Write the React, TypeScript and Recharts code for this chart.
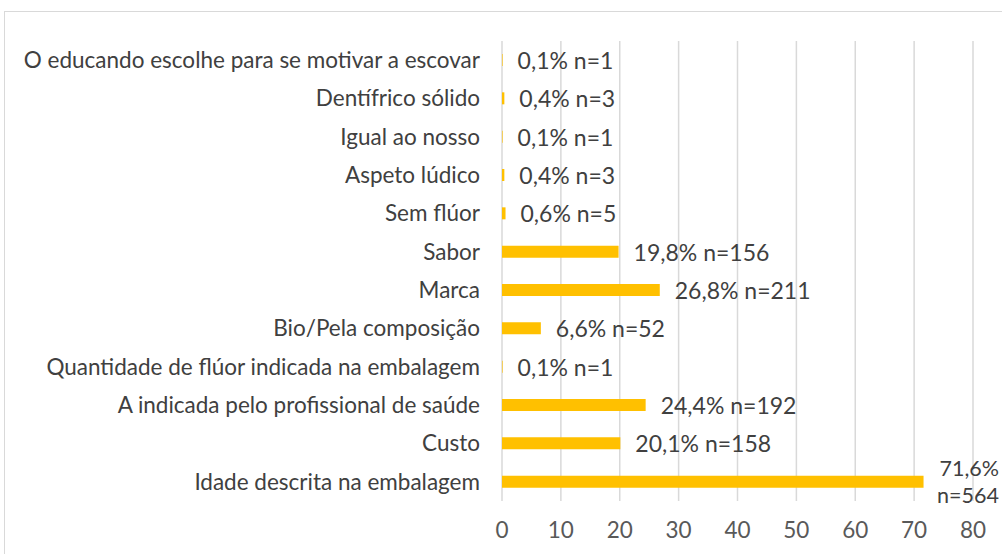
import React from "react";
import { Bar, BarChart, CartesianGrid, LabelList, XAxis, YAxis } from "recharts";

const categories = [
  "O educando escolhe para se motivar a escovar",
  "Dentífrico sólido",
  "Igual ao nosso",
  "Aspeto lúdico",
  "Sem flúor",
  "Sabor",
  "Marca",
  "Bio/Pela composição",
  "Quantidade de flúor indicada na embalagem",
  "A indicada pelo profissional de saúde",
  "Custo",
  "Idade descrita na embalagem",
];
const percents = [0.1, 0.4, 0.1, 0.4, 0.6, 19.8, 26.8, 6.6, 0.1, 24.4, 20.1, 71.6];
const counts = [1, 3, 1, 3, 5, 156, 211, 52, 1, 192, 158, 564];
const xTicks = [0, 10, 20, 30, 40, 50, 60, 70, 80];

const data = categories.map((name, i) => ({ name, pct: percents[i], n: counts[i] }));

const FONT = "Lato, 'Liberation Sans', sans-serif";
const BAR_COLOR = "#FFC000";
const GRID = "#d9d9d9";

const fmt = (v: number) => v.toFixed(1).replace(".", ",") + "%";

function BarLabel(props: any) {
  const { x, y, width, height, index } = props;
  const d = data[index];
  const lx = x + width + 15;
  const cy = y + height / 2;
  const style = { fontFamily: FONT, fontSize: 23, fill: "#404040" };
  if (d.pct > 60) {
    // long bar: label wraps onto two lines, kept inside the frame
    return (
      <text x={999} y={cy} style={{ ...style, fontSize: 21.5 }} dominantBaseline="central" textAnchor="end">
        <tspan x={999} dy={-13.5}>{fmt(d.pct)}</tspan>
        <tspan x={999} dy={27}>{`n=${d.n}`}</tspan>
      </text>
    );
  }
  return (
    <text x={lx} y={cy} style={style} dominantBaseline="central">
      {`${fmt(d.pct)} n=${d.n}`}
    </text>
  );
}

export default function App() {
  return (
    <div style={{ position: "absolute", left: 0, top: 0, width: 1002, height: 554, background: "#fff", overflow: "hidden" }}>
      <div
        style={{
          position: "absolute",
          left: 4,
          top: 11,
          width: 1020,
          height: 600,
          border: `1px solid ${GRID}`,
          boxSizing: "border-box",
        }}
      />
      <div style={{ position: "absolute", left: 0, top: 0 }}>
        <BarChart
          width={1002}
          height={554}
          data={data}
          layout="vertical"
          margin={{ top: 41, right: 29, bottom: 0, left: 0 }}
          barSize={12}
        >
          <CartesianGrid horizontal={false} stroke={GRID} strokeWidth={1.5} />
          <XAxis
            type="number"
            domain={[0, 80]}
            ticks={xTicks}
            axisLine={false}
            tickLine={false}
            tickSize={0}
            tickMargin={21}
            height={53}
            tick={{ fontFamily: FONT, fontSize: 22.5, fill: "#595959" }}
          />
          <YAxis
            type="category"
            dataKey="name"
            width={502}
            axisLine={false}
            tickLine={false}
            tickSize={0}
            tickMargin={22}
            interval={0}
            tick={{ fontFamily: FONT, fontSize: 22.5, fill: "#404040" }}
          />
          <Bar dataKey="pct" fill={BAR_COLOR} isAnimationActive={false}>
            <LabelList dataKey="pct" content={BarLabel} />
          </Bar>
        </BarChart>
      </div>
    </div>
  );
}
